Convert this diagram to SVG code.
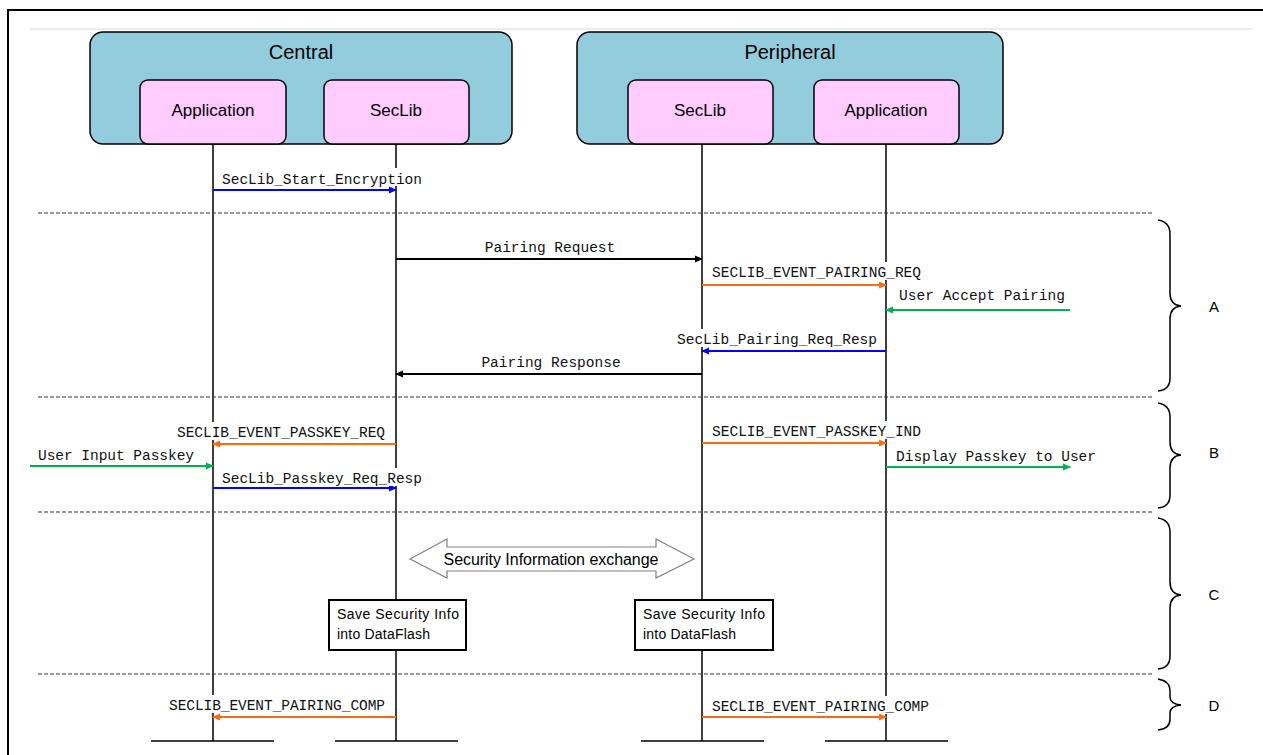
<svg xmlns="http://www.w3.org/2000/svg" width="1263" height="755" viewBox="0 0 1263 755">
<style>
.sans{font-family:"Liberation Sans",Arial,sans-serif;fill:#000}
.mono{font-family:"Liberation Mono","DejaVu Sans Mono",monospace;font-size:14.5px;fill:#111}
.cal{font-family:"Liberation Sans",Arial,sans-serif;font-size:14px;fill:#000}
.life{stroke:#000;stroke-width:1.5;fill:none}
.dash{stroke:#333;stroke-width:1;stroke-dasharray:4 2;fill:none}
.msg{stroke-width:2.2;fill:none}
.bg{fill:#fff}
.brace{stroke:#000;stroke-width:1.5;fill:none}
</style>
<defs>
<marker id="ak" markerWidth="8" markerHeight="8" refX="7" refY="4" orient="auto" markerUnits="userSpaceOnUse"><path d="M0,0.5 L8,4 L0,7.5 z" fill="#000"/></marker>
<marker id="ab" markerWidth="8" markerHeight="8" refX="7" refY="4" orient="auto" markerUnits="userSpaceOnUse"><path d="M0,0.5 L8,4 L0,7.5 z" fill="#0000FF"/></marker>
<marker id="ao" markerWidth="8" markerHeight="8" refX="7" refY="4" orient="auto" markerUnits="userSpaceOnUse"><path d="M0,0.5 L8,4 L0,7.5 z" fill="#FF6A10"/></marker>
<marker id="ag" markerWidth="8" markerHeight="8" refX="7" refY="4" orient="auto" markerUnits="userSpaceOnUse"><path d="M0,0.5 L8,4 L0,7.5 z" fill="#00B050"/></marker>
</defs>
<rect width="1263" height="755" fill="#fff"/>
<!-- frame -->
<path d="M8,760 L8,10 L1270,10" fill="none" stroke="#000" stroke-width="2"/>
<line x1="30" y1="29" x2="1253" y2="29" stroke="#d8d8d8" stroke-width="1"/>

<!-- lifelines -->
<g id="lifelines">
<line class="life" x1="213" y1="144" x2="213" y2="741"/>
<line class="life" x1="396" y1="144" x2="396" y2="741"/>
<line class="life" x1="702" y1="144" x2="702" y2="741"/>
<line class="life" x1="886" y1="144" x2="886" y2="741"/>
<line class="life" x1="151" y1="741" x2="274" y2="741"/>
<line class="life" x1="335" y1="741" x2="458" y2="741"/>
<line class="life" x1="641" y1="741" x2="764" y2="741"/>
<line class="life" x1="825" y1="741" x2="948" y2="741"/>
</g>

<!-- separators -->
<g id="separators">
<line class="dash" x1="38" y1="213" x2="1152" y2="213"/>
<line class="dash" x1="38" y1="397" x2="1152" y2="397"/>
<line class="dash" x1="38" y1="512" x2="1152" y2="512"/>
<line class="dash" x1="38" y1="674" x2="1152" y2="674"/>
</g>

<!-- nodes -->
<g id="central">
<rect x="90" y="32" width="422" height="112" rx="13" fill="#93CDDD" stroke="#000" stroke-width="1.5"/>
<text class="sans" x="301" y="59" font-size="20" text-anchor="middle">Central</text>
</g>
<g id="central-app">
<rect x="140" y="80" width="146" height="64" rx="8" fill="#FFCCFF" stroke="#000" stroke-width="1.5"/>
<text class="sans" x="213" y="116" font-size="17" text-anchor="middle">Application</text>
</g>
<g id="central-seclib">
<rect x="324" y="80" width="145" height="64" rx="8" fill="#FFCCFF" stroke="#000" stroke-width="1.5"/>
<text class="sans" x="396" y="116" font-size="17" text-anchor="middle">SecLib</text>
</g>
<g id="peripheral">
<rect x="577" y="32" width="426" height="112" rx="13" fill="#93CDDD" stroke="#000" stroke-width="1.5"/>
<text class="sans" x="790" y="59" font-size="20" text-anchor="middle">Peripheral</text>
</g>
<g id="peripheral-seclib">
<rect x="628" y="80" width="145" height="64" rx="8" fill="#FFCCFF" stroke="#000" stroke-width="1.5"/>
<text class="sans" x="700" y="116" font-size="17" text-anchor="middle">SecLib</text>
</g>
<g id="peripheral-app">
<rect x="814" y="80" width="145" height="64" rx="8" fill="#FFCCFF" stroke="#000" stroke-width="1.5"/>
<text class="sans" x="886" y="116" font-size="17" text-anchor="middle">Application</text>
</g>

<!-- connectors -->
<g id="connectors">
<line class="msg" x1="213" y1="190" x2="396" y2="190" stroke="#0000FF" marker-end="url(#ab)"/>
<line class="msg" x1="396" y1="259" x2="702" y2="259" stroke="#000" marker-end="url(#ak)"/>
<line class="msg" x1="702" y1="285" x2="886" y2="285" stroke="#FF6A10" marker-end="url(#ao)"/>
<line class="msg" x1="1070" y1="310" x2="886" y2="310" stroke="#00B050" marker-end="url(#ag)"/>
<line class="msg" x1="886" y1="351" x2="702" y2="351" stroke="#0000FF" marker-end="url(#ab)"/>
<line class="msg" x1="702" y1="374" x2="396" y2="374" stroke="#000" marker-end="url(#ak)"/>
<line class="msg" x1="396" y1="444" x2="213" y2="444" stroke="#FF6A10" marker-end="url(#ao)"/>
<line class="msg" x1="30" y1="466" x2="213" y2="466" stroke="#00B050" marker-end="url(#ag)"/>
<line class="msg" x1="213" y1="488" x2="396" y2="488" stroke="#0000FF" marker-end="url(#ab)"/>
<line class="msg" x1="702" y1="443" x2="886" y2="443" stroke="#FF6A10" marker-end="url(#ao)"/>
<line class="msg" x1="886" y1="467" x2="1070" y2="467" stroke="#00B050" marker-end="url(#ag)"/>
<line class="msg" x1="396" y1="717" x2="213" y2="717" stroke="#FF6A10" marker-end="url(#ao)"/>
<line class="msg" x1="702" y1="717" x2="886" y2="717" stroke="#FF6A10" marker-end="url(#ao)"/>
</g>

<!-- labels -->
<g id="labels">
<rect class="bg" x="220" y="168" width="204" height="18"/>
<text class="mono" x="222" y="184" textLength="200">SecLib_Start_Encryption</text>
<text class="mono" x="550" y="252" text-anchor="middle">Pairing Request</text>
<rect class="bg" x="710" y="262" width="214" height="18"/>
<text class="mono" x="712" y="277" textLength="209">SECLIB_EVENT_PAIRING_REQ</text>
<text class="mono" x="899" y="300" textLength="166">User Accept Pairing</text>
<rect class="bg" x="675" y="329" width="204" height="18"/>
<text class="mono" x="677" y="344" textLength="200">SecLib_Pairing_Req_Resp</text>
<text class="mono" x="551" y="367" text-anchor="middle">Pairing Response</text>
<rect class="bg" x="175" y="422" width="212" height="18"/>
<text class="mono" x="177" y="437" textLength="208">SECLIB_EVENT_PASSKEY_REQ</text>
<text class="mono" x="38" y="460" textLength="156">User Input Passkey</text>
<rect class="bg" x="220" y="468" width="204" height="18"/>
<text class="mono" x="222" y="483" textLength="200">SecLib_Passkey_Req_Resp</text>
<rect class="bg" x="710" y="421" width="214" height="18"/>
<text class="mono" x="712" y="436" textLength="209">SECLIB_EVENT_PASSKEY_IND</text>
<text class="mono" x="896" y="461" textLength="200">Display Passkey to User</text>
<rect class="bg" x="167" y="695" width="220" height="18"/>
<text class="mono" x="169" y="710" textLength="216">SECLIB_EVENT_PAIRING_COMP</text>
<rect class="bg" x="710" y="696" width="222" height="18"/>
<text class="mono" x="712" y="711" textLength="217">SECLIB_EVENT_PAIRING_COMP</text>
</g>

<!-- security info exchange -->
<g id="security-exchange">
<path d="M410,559 L447,539 L447,547 L656,547 L656,539 L694,559 L656,578 L656,571 L447,571 L447,578 Z" fill="#fff" stroke="#808080" stroke-width="1.2"/>
<text class="sans" x="551" y="565" font-size="16" text-anchor="middle" textLength="215">Security Information exchange</text>
</g>
<g id="save-central">
<rect x="329" y="600" width="137" height="50" fill="#fff" stroke="#000" stroke-width="2"/>
<text class="cal" x="337" y="619" textLength="122">Save Security Info</text>
<text class="cal" x="337" y="639" textLength="93">into DataFlash</text>
</g>
<g id="save-peripheral">
<rect x="635" y="600" width="138" height="50" fill="#fff" stroke="#000" stroke-width="2"/>
<text class="cal" x="643" y="619" textLength="122">Save Security Info</text>
<text class="cal" x="643" y="639" textLength="93">into DataFlash</text>
</g>

<!-- braces -->
<g id="braces">
<path class="brace" d="M1158,220 Q1170,222 1170,234 L1170,293 Q1170,305 1181,306 Q1170,307 1170,319 L1170,378 Q1170,390 1158,391"/>
<path class="brace" d="M1158,403 Q1170,405 1170,417 L1170,442 Q1170,454 1181,455 Q1170,456 1170,468 L1170,495 Q1170,507 1158,508"/>
<path class="brace" d="M1158,518 Q1170,520 1170,532 L1170,582 Q1170,594 1181,595 Q1170,596 1170,608 L1170,656 Q1170,668 1158,669"/>
<path class="brace" d="M1158,679 Q1170,681 1170,691 L1170,697 Q1170,704 1181,705 Q1170,706 1170,713 L1170,719 Q1170,729 1158,730"/>
<text class="sans" x="1214" y="312" font-size="15" text-anchor="middle">A</text>
<text class="sans" x="1214" y="458" font-size="15" text-anchor="middle">B</text>
<text class="sans" x="1214" y="600" font-size="15" text-anchor="middle">C</text>
<text class="sans" x="1214" y="711" font-size="15" text-anchor="middle">D</text>
</g>
</svg>
